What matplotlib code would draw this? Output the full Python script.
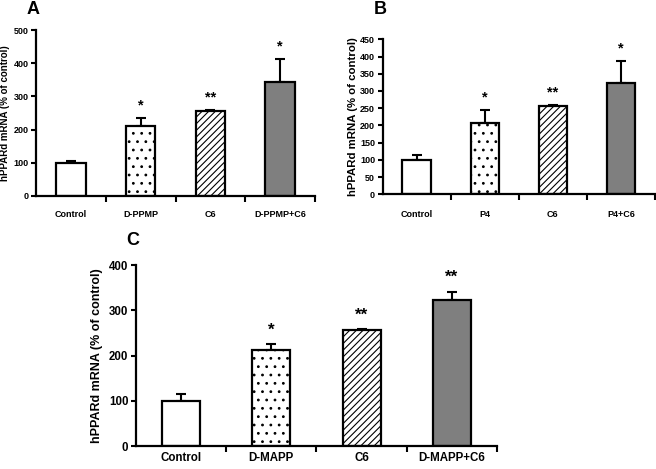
import numpy as np
import matplotlib.pyplot as plt

plt.rcParams['font.family'] = ['Liberation Sans', 'DejaVu Sans']
plt.rcParams['font.weight'] = 'bold'
plt.rcParams['hatch.linewidth'] = 0.8

# ---- data ----
cats_a = ["Control", "D-PPMP", "C6", "D-PPMP+C6"]
vals_a = [100, 212, 256, 342]
err_a = [5, 24, 2, 71]
stars_a = ["", "*", "**", "*"]

cats_b = ["Control", "P4", "C6", "P4+C6"]
vals_b = [101, 208, 257, 322]
err_b = [12, 37, 2, 65]
stars_b = ["", "*", "**", "*"]

cats_c = ["Control", "D-MAPP", "C6", "D-MAPP+C6"]
vals_c = [100, 212, 256, 322]
err_c = [14, 13, 2, 19]
stars_c = ["", "*", "**", "**"]

fill = ["white", "white", "white", "#7f7f7f"]
hatches = [None, "..", "/////", None]


def panel(ax, cats, vals, err, stars, ymax, ystep, fs, ylab_fs, xpad, star_off):
    x = np.arange(len(cats))
    bars = ax.bar(x, vals, width=0.42, color=fill, edgecolor="black",
                  linewidth=1.6, zorder=2)
    for b, h in zip(bars, hatches):
        if h:
            b.set_hatch(h)
    ax.errorbar(x, vals, yerr=[np.zeros(len(err)), err], fmt="none",
                ecolor="black", elinewidth=1.5, capsize=3.5, capthick=1.5,
                zorder=1)
    for xi, v, e, s in zip(x, vals, err, stars):
        if s:
            ax.annotate(s, (xi, v + e), xytext=(0, star_off),
                        textcoords="offset points", ha="center", va="bottom",
                        fontsize=fs + 4, fontweight="bold")
    ax.set_xlim(-0.5, len(cats) - 0.5)
    ax.set_ylim(0, ymax)
    ax.set_yticks(np.arange(0, ymax + 1, ystep))
    ax.set_xticks(x)
    ax.set_xticklabels(cats, fontsize=fs, fontweight="bold")
    ax.tick_params(axis="x", which="major", length=0, pad=xpad)
    ax.set_xticks(np.arange(0.5, len(cats), 1.0), minor=True)
    ax.tick_params(axis="x", which="minor", length=4, width=1.5,
                   direction="out")
    ax.tick_params(axis="y", labelsize=fs, length=3.5, width=1.5, pad=2)
    for lab in ax.get_yticklabels():
        lab.set_fontweight("bold")
    for sp in ["top", "right"]:
        ax.spines[sp].set_visible(False)
    for sp in ["left", "bottom"]:
        ax.spines[sp].set_linewidth(1.6)
    ax.set_ylabel("hPPARd mRNA (% of control)", fontsize=ylab_fs,
                  fontweight="bold")


fig = plt.figure(figsize=(6.56, 4.69), dpi=100)
ax_a = fig.add_axes([0.0549, 0.5821, 0.4253, 0.3539])
ax_b = fig.add_axes([0.5834, 0.5857, 0.4151, 0.3305])
ax_c = fig.add_axes([0.2073, 0.0490, 0.5503, 0.3859])

panel(ax_a, cats_a, vals_a, err_a, stars_a, 500, 100, 6.5, 7.0, 10, 4)
panel(ax_b, cats_b, vals_b, err_b, stars_b, 450, 50, 6.5, 8.2, 11, 4)
panel(ax_c, cats_c, vals_c, err_c, stars_c, 400, 100, 8.3, 9, 4, 5)

# label x is the right edge of the rotated ylabel
ax_a.yaxis.set_label_coords(-0.093, 0.5)
ax_b.yaxis.set_label_coords(-0.091, 0.5)
ax_c.yaxis.set_label_coords(-0.091, 0.5)

fig.text(33 / 656, 1 - 10 / 469, "A", fontsize=13, fontweight="bold",
         ha="center", va="center")
fig.text(380 / 656, 1 - 10 / 469, "B", fontsize=13, fontweight="bold",
         ha="center", va="center")
fig.text(133 / 656, 1 - 240 / 469, "C", fontsize=13, fontweight="bold",
         ha="center", va="center")

fig.savefig("out.png", dpi=100)
